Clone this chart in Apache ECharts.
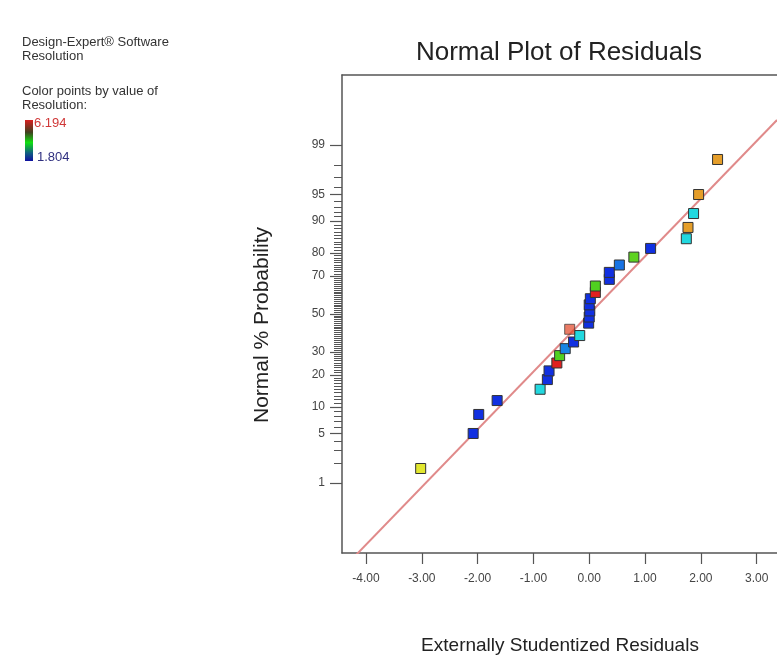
<!DOCTYPE html>
<html>
<head>
<meta charset="utf-8">
<script src="https://cdn.jsdelivr.net/npm/echarts@6/dist/echarts.min.js"></script>
<style>html,body{margin:0;padding:0;background:#fff;}#c{width:777px;height:655px;}</style>
</head>
<body>
<div id="c"></div>
<script>
// ---- data ----
const residuals = [-3.02, -2.08, -1.98, -1.65, -0.88, -0.75, -0.72, -0.58, -0.53, -0.43,
  -0.28, -0.17, -0.35, -0.01, 0.00, 0.01, 0.00, 0.02, 0.11, 0.11,
  0.36, 0.36, 0.54, 0.80, 1.10, 1.74, 1.77, 1.87, 1.96, 2.30];
const normalPercent = [1.67, 5, 8.33, 11.67, 15, 18.33, 21.67, 25, 28.33, 31.67,
  35, 38.33, 41.67, 45, 48.33, 51.67, 55, 58.33, 61.67, 65,
  68.33, 71.67, 75, 78.33, 81.67, 85, 88.33, 91.67, 95, 98.33];
const resolution = [5.05, 1.9, 1.9, 1.9, 2.95, 1.9, 1.9, 6.194, 4.0, 2.4,
  1.9, 2.95, 6.0, 1.9, 1.9, 1.9, 1.9, 1.9, 6.194, 4.0,
  1.9, 1.9, 2.3, 4.1, 1.9, 2.95, 5.5, 2.95, 5.5, 5.5];
const highlightedPoint = 12;
const resolutionRange = [1.804, 6.194];
const majorProbTicks = [1, 5, 10, 20, 30, 50, 70, 80, 90, 95, 99];
const minorProbTicks = Array.from({length: 99}, (_, i) => i + 1);
const xTickValues = [-4, -3, -2, -1, 0, 1, 2, 3];
const fitSlope = 0.794, fitIntercept = 0.0;
const xRange = [-4.43, 3.365];
const probRange = [0.05, 99.95];

// ---- helpers ----
function invNorm(p) {
  const a=[-3.969683028665376e+01,2.209460984245205e+02,-2.759285104469687e+02,1.383577518672690e+02,-3.066479806614716e+01,2.506628277459239e+00];
  const b=[-5.447609879822406e+01,1.615858368580409e+02,-1.556989798598866e+02,6.680131188771972e+01,-1.328068155288572e+01];
  const c=[-7.784894002430293e-03,-3.223964580411365e-01,-2.400758277161838e+00,-2.549732539343734e+00,4.374664141464968e+00,2.938163982698783e+00];
  const d=[7.784695709041462e-03,3.224671290700398e-01,2.445134137142996e+00,3.754408661907416e+00];
  const pl=0.02425, ph=1-pl; let q, r;
  if (p < pl) { q=Math.sqrt(-2*Math.log(p)); return (((((c[0]*q+c[1])*q+c[2])*q+c[3])*q+c[4])*q+c[5])/((((d[0]*q+d[1])*q+d[2])*q+d[3])*q+1); }
  if (p > ph) { q=Math.sqrt(-2*Math.log(1-p)); return -(((((c[0]*q+c[1])*q+c[2])*q+c[3])*q+c[4])*q+c[5])/((((d[0]*q+d[1])*q+d[2])*q+d[3])*q+1); }
  q=p-0.5; r=q*q;
  return (((((a[0]*r+a[1])*r+a[2])*r+a[3])*r+a[4])*r+a[5])*q/(((((b[0]*r+b[1])*r+b[2])*r+b[3])*r+b[4])*r+1);
}
const rampStops = [[0,[16,32,224]],[0.25,[32,216,232]],[0.5,[80,208,32]],[0.75,[232,232,48]],[1,[224,32,32]]];
function rampColor(v) {
  const t = Math.max(0, Math.min(1, (v - resolutionRange[0]) / (resolutionRange[1] - resolutionRange[0])));
  for (let i = 1; i < rampStops.length; i++) {
    if (t <= rampStops[i][0]) {
      const [t0, c0] = rampStops[i-1], [t1, c1] = rampStops[i];
      const f = (t - t0) / (t1 - t0);
      const c = c0.map((x, k) => Math.round(x + (c1[k] - x) * f));
      return 'rgb(' + c.join(',') + ')';
    }
  }
  return 'rgb(224,32,32)';
}

const yMin = invNorm(probRange[0] / 100), yMax = invNorm(probRange[1] / 100);
const majorZ = majorProbTicks.map(p => invNorm(p / 100));
const minorZ = minorProbTicks.map(p => invNorm(p / 100));

const points = residuals.map((r, i) => ({
  value: [r, invNorm(normalPercent[i] / 100)],
  itemStyle: {
    color: rampColor(resolution[i]),
    opacity: i === highlightedPoint ? 0.7 : 1
  }
}));

const FONT = 'Arial, "Liberation Sans", sans-serif';
const chart = echarts.init(document.getElementById('c'), null, {renderer: 'canvas'});
chart.setOption({
  animation: false,
  backgroundColor: '#fff',
  grid: {left: 342, top: 75, right: 0, bottom: 102, show: false},
  xAxis: [{
    type: 'value', min: xRange[0], max: xRange[1], position: 'bottom',
    splitLine: {show: false},
    axisLine: {show: true, onZero: false, lineStyle: {color: '#555', width: 1.5}},
    axisTick: {show: true, length: 11, customValues: xTickValues, lineStyle: {color: '#555', width: 1.2}},
    axisLabel: {customValues: xTickValues, margin: 20, fontSize: 12, color: '#444', fontFamily: FONT,
      formatter: v => v.toFixed(2)}
  }, {
    type: 'value', min: xRange[0], max: xRange[1], position: 'top',
    splitLine: {show: false},
    axisLine: {show: true, onZero: false, lineStyle: {color: '#555', width: 1.5}},
    axisTick: {show: false}, axisLabel: {show: false}
  }],
  yAxis: [{
    type: 'value', min: yMin, max: yMax, position: 'left',
    splitLine: {show: false},
    axisLine: {show: true, onZero: false, lineStyle: {color: '#555', width: 1.5}},
    axisTick: {show: true, length: 12, customValues: majorZ, lineStyle: {color: '#555', width: 1.2}},
    axisLabel: {customValues: majorZ, margin: 17, fontSize: 12, color: '#444', fontFamily: FONT,
      formatter: v => {
        let best = 0;
        majorZ.forEach((z, i) => { if (Math.abs(z - v) < Math.abs(majorZ[best] - v)) best = i; });
        return String(majorProbTicks[best]);
      }}
  }, {
    type: 'value', min: yMin, max: yMax, position: 'left',
    splitLine: {show: false},
    axisLine: {show: false, onZero: false},
    axisTick: {show: true, length: 8, customValues: minorZ, lineStyle: {color: '#555', width: 1}},
    axisLabel: {show: false}
  }],
  series: [{
    type: 'line',
    data: xRange.map(x => [x, fitSlope * x + fitIntercept]),
    symbol: 'none', clip: true, z: 1,
    lineStyle: {color: '#e08a8a', width: 2}
  }, {
    type: 'scatter',
    data: points,
    symbol: 'rect', symbolSize: 10, z: 3,
    itemStyle: {borderColor: '#333', borderWidth: 1}
  }],
  graphic: [
    {type: 'text', style: {text: 'Normal Plot of Residuals', x: 559, y: 53, align: 'center', verticalAlign: 'middle', font: '26px ' + FONT, fill: '#222'}},
    {type: 'text', style: {text: 'Externally Studentized Residuals', x: 560, y: 646, align: 'center', verticalAlign: 'middle', font: '19px ' + FONT, fill: '#222'}},
    {type: 'text', x: 262, y: 325, rotation: Math.PI / 2, style: {text: 'Normal % Probability', x: 0, y: 0, align: 'center', verticalAlign: 'middle', font: '21px ' + FONT, fill: '#222'}},
    {type: 'text', style: {text: 'Design-Expert® Software', x: 22, y: 42, verticalAlign: 'middle', font: '13px ' + FONT, fill: '#333'}},
    {type: 'text', style: {text: 'Resolution', x: 22, y: 56, verticalAlign: 'middle', font: '13px ' + FONT, fill: '#333'}},
    {type: 'text', style: {text: 'Color points by value of', x: 22, y: 91, verticalAlign: 'middle', font: '13px ' + FONT, fill: '#333'}},
    {type: 'text', style: {text: 'Resolution:', x: 22, y: 105, verticalAlign: 'middle', font: '13px ' + FONT, fill: '#333'}},
    {type: 'rect', shape: {x: 25, y: 120, width: 8, height: 41}, style: {fill: new echarts.graphic.LinearGradient(0, 0, 0, 1, [
      {offset: 0, color: '#d82020'}, {offset: 0.3, color: '#404020'}, {offset: 0.55, color: '#10e010'}, {offset: 0.8, color: '#106080'}, {offset: 1, color: '#1010a0'}])}},
    {type: 'text', style: {text: resolutionRange[1].toFixed(3), x: 34, y: 123, verticalAlign: 'middle', font: '13px ' + FONT, fill: '#d03838'}},
    {type: 'text', style: {text: resolutionRange[0].toFixed(3), x: 37, y: 157, verticalAlign: 'middle', font: '13px ' + FONT, fill: '#303080'}}
  ]
});
</script>
</body>
</html>
